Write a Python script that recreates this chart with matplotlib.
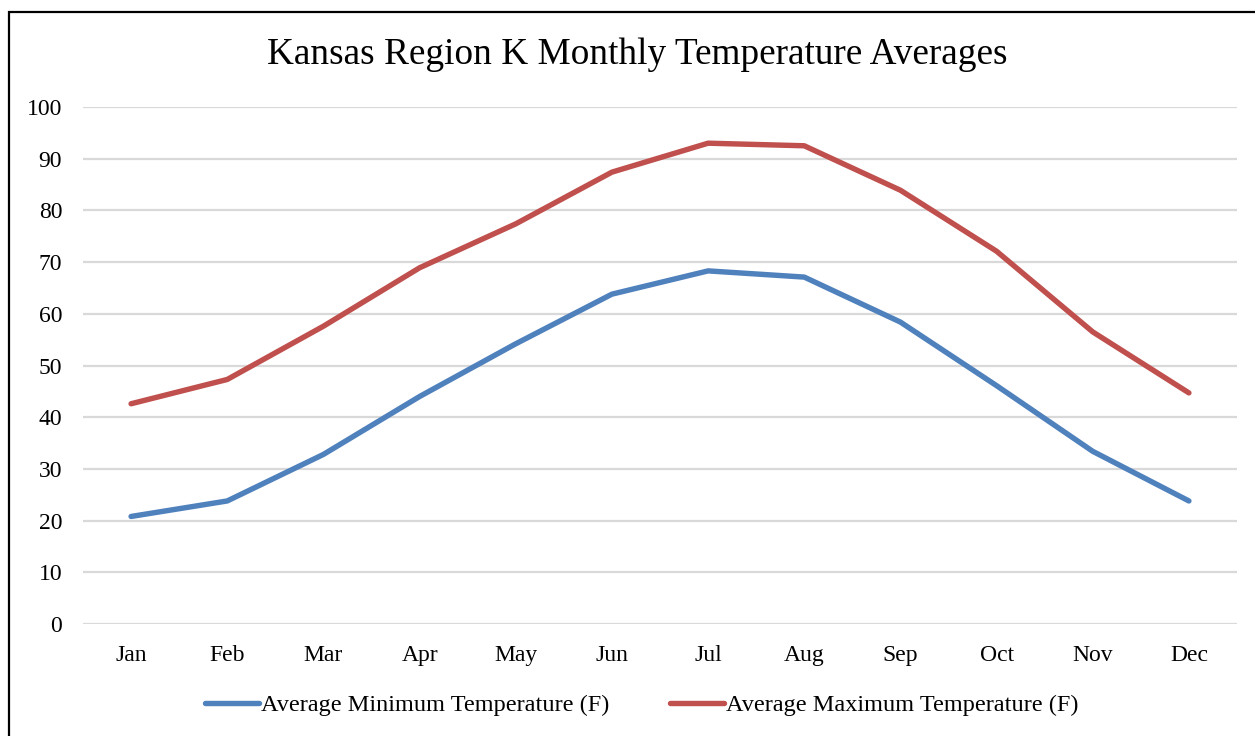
import matplotlib
matplotlib.use("Agg")
import matplotlib.pyplot as plt
from matplotlib.patches import Rectangle

months = ["Jan", "Feb", "Mar", "Apr", "May", "Jun",
          "Jul", "Aug", "Sep", "Oct", "Nov", "Dec"]
avg_min = [20.8, 23.8, 32.8, 44.0, 54.2, 63.8, 68.3, 67.1, 58.4, 46.1, 33.4, 23.8]
avg_max = [42.6, 47.3, 57.6, 68.9, 77.4, 87.4, 93.0, 92.5, 83.9, 72.1, 56.5, 44.7]
series_labels = ["Average Minimum Temperature (F)", "Average Maximum Temperature (F)"]
title = "Kansas Region K Monthly Temperature Averages"
y_ticks = list(range(0, 101, 10))

plt.rcParams["font.family"] = ["Liberation Serif", "DejaVu Serif"]

W, H, DPI = 1255, 736, 100
fig = plt.figure(figsize=(W / DPI, H / DPI), dpi=DPI)
fig.patch.set_facecolor("white")

# chart frame (runs off the right and bottom edges)
fig.add_artist(Rectangle((9 / W, -0.1), 1.2, 1 - 12 / H + 0.1,
                         transform=fig.transFigure, fill=False,
                         edgecolor="black", linewidth=1.6, zorder=0))

ax = fig.add_axes([83 / W, 1 - 624 / H, (1237 - 83) / W, (624 - 107) / H])
x = list(range(len(months)))
l1, = ax.plot(x, avg_min, color="#4F81BD", linewidth=3.9,
              solid_capstyle="round", solid_joinstyle="round", label=series_labels[0])
l2, = ax.plot(x, avg_max, color="#C0504D", linewidth=3.9,
              solid_capstyle="round", solid_joinstyle="round", label=series_labels[1])

ax.set_xlim(-0.5, len(months) - 0.5)
ax.set_ylim(0, 100)
ax.set_yticks(y_ticks)
ax.set_xticks(x)
ax.set_xticklabels(months)
ax.grid(axis="y", color="#D9D9D9", linewidth=1.6)
ax.set_axisbelow(True)
for s in ax.spines.values():
    s.set_visible(False)
ax.tick_params(axis="both", length=0, labelsize=17, colors="black")
ax.tick_params(axis="y", pad=15)
ax.tick_params(axis="x", pad=15)

fig.text(637 / W, 1 - 55 / H, title, ha="center", va="center", fontsize=26.8)

fig.legend(handles=[l1, l2], loc="center", bbox_to_anchor=(642 / W, 1 - 705 / H),
           ncol=2, frameon=False, fontsize=17.5, handlelength=2.2,
           handletextpad=0.1, columnspacing=2.5)

fig.savefig("out.png", dpi=DPI)
